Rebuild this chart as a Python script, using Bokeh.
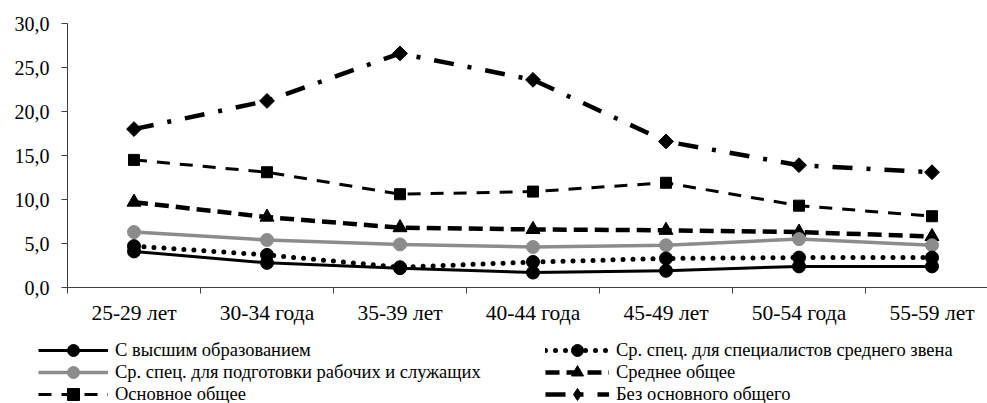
import math
from bokeh.plotting import figure
from bokeh.models import FixedTicker, Legend, LegendItem, Range1d, LinearAxis
from bokeh.embed import file_html
from bokeh.resources import INLINE

# ---- data ----
categories = ["25-29 лет", "30-34 года", "35-39 лет", "40-44 года",
              "45-49 лет", "50-54 года", "55-59 лет"]
higher_edu = [4.1, 2.8, 2.2, 1.7, 1.9, 2.4, 2.4]
spec_mid_level = [4.7, 3.7, 2.3, 2.9, 3.3, 3.4, 3.4]
spec_workers = [6.3, 5.4, 4.9, 4.6, 4.8, 5.5, 4.8]
secondary_general = [9.7, 8.0, 6.8, 6.6, 6.5, 6.3, 5.8]
basic_general = [14.5, 13.1, 10.6, 10.9, 11.9, 9.3, 8.1]
no_basic_general = [18.0, 21.2, 26.6, 23.6, 16.6, 13.9, 13.1]
y_ticks = [0, 5, 10, 15, 20, 25, 30]
y_tick_labels = ["0,0", "5,0", "10,0", "15,0", "20,0", "25,0", "30,0"]
series_names = [
    "С высшим образованием",
    "Ср. спец. для специалистов среднего звена",
    "Ср. спец. для подготовки рабочих и служащих",
    "Среднее общее",
    "Основное общее",
    "Без основного общего",
]

xs = list(range(1, len(categories) + 1))
FONT = "Liberation Serif"
AXIS_COLOR = "#404040"
GRAY = "#8c8c8c"

# "legend_marker" is the marker shape shown in the legend key (the legend
# does not rotate markers, so the rotated-square diamond needs a diamond key)
styles = [
    dict(color="black", width=3, dash="solid", cap="butt", marker="circle", size=13, angle=0,
         legend_marker=None),
    dict(color="black", width=5, dash="0 10", cap="round", marker="circle", size=13, angle=0,
         legend_marker=None),
    dict(color=GRAY, width=3.5, dash="solid", cap="butt", marker="circle", size=13, angle=0,
         legend_marker=None),
    dict(color="black", width=4.5, dash="14 7", cap="butt", marker="triangle", size=14, angle=0,
         legend_marker=None),
    dict(color="black", width=3, dash="13 10", cap="butt", marker="square", size=11, angle=0,
         legend_marker=None),
    dict(color="black", width=4.5, dash="20 14 4 14", cap="butt", marker="square", size=10.5,
         angle=math.pi / 4, legend_marker="diamond"),
]
series_values = [higher_edu, spec_mid_level, spec_workers, secondary_general,
                 basic_general, no_basic_general]

W, H = 987, 403
X0, XSTEP = 67, 133      # pixel of x=0.5, pixels per category
Y0, YSTEP = 287, 8.8     # pixel of y=0, pixels per unit

p = figure(width=W, height=H, output_backend="svg", toolbar_location=None,
           x_range=Range1d(0.5 - X0 / XSTEP, 0.5 + (W - X0) / XSTEP),
           y_range=Range1d(-(H - Y0) / YSTEP, Y0 / YSTEP),
           x_axis_type=None, y_axis_type=None,
           min_border_left=0, min_border_right=0, min_border_top=0,
           min_border_bottom=0)
p.outline_line_color = None
p.xgrid.visible = False
p.ygrid.visible = False

xaxis = LinearAxis(fixed_location=0, bounds=(0.5, 0.5 + (W - X0) / XSTEP),
                   ticker=FixedTicker(ticks=xs, minor_ticks=[x - 0.5 for x in xs]),
                   major_label_overrides={x: c for x, c in zip(xs, categories)},
                   major_tick_line_color=None, major_tick_out=0, major_tick_in=0,
                   minor_tick_out=6, minor_tick_in=0, minor_tick_line_color=AXIS_COLOR,
                   axis_line_color=AXIS_COLOR, major_label_standoff=7,
                   major_label_text_font=FONT,
                   major_label_text_font_size="21.5px", major_label_text_color="black")
p.add_layout(xaxis, "below")

yaxis = LinearAxis(fixed_location=0.5, bounds=(0, 30),
                   ticker=FixedTicker(ticks=y_ticks, minor_ticks=[]),
                   major_label_overrides={t: l for t, l in zip(y_ticks, y_tick_labels)},
                   major_tick_out=6, major_tick_in=0, major_tick_line_color=AXIS_COLOR,
                   minor_tick_line_color=None,
                   axis_line_color=AXIS_COLOR, major_label_standoff=12,
                   major_label_text_font=FONT,
                   major_label_text_font_size="20px", major_label_text_color="black")
p.add_layout(yaxis, "left")

renderers = []
for values, st in zip(series_values, styles):
    ln = p.line(xs, values, line_color=st["color"], line_width=st["width"],
                line_dash=st["dash"], line_cap=st["cap"], line_join="round")
    renderers.append([ln])
for values, st, rs in reversed(list(zip(series_values, styles, renderers))):
    if st["legend_marker"] is not None:
        # small key-shaped marker, hidden under the chart marker; used by the legend
        key = p.scatter(xs, values, marker=st["legend_marker"], size=12,
                        fill_color=st["color"], line_color=st["color"])
    sc = p.scatter(xs, values, marker=st["marker"], size=st["size"], angle=st["angle"],
                   fill_color=st["color"], line_color=st["color"])
    rs.append(key if st["legend_marker"] is not None else sc)

col_x = [38, 545]
row_y = [350, 372, 394]
glyph_w = [70, 64]
for i, (name, rs) in enumerate(zip(series_names, renderers)):
    col, row = i % 2, i // 2
    lg = Legend(items=[LegendItem(label=name, renderers=rs)],
                location=(col_x[col], H - 15 - row_y[row]), orientation="vertical",
                glyph_width=glyph_w[col], glyph_height=30, label_height=30,
                spacing=0, padding=0, margin=0, label_standoff=7,
                border_line_color=None, background_fill_alpha=0,
                label_text_font=FONT, label_text_font_size="18.5px",
                label_text_color="black", label_text_baseline="middle")
    p.add_layout(lg, "center")

open("out.html", "w").write(file_html(p, INLINE))
